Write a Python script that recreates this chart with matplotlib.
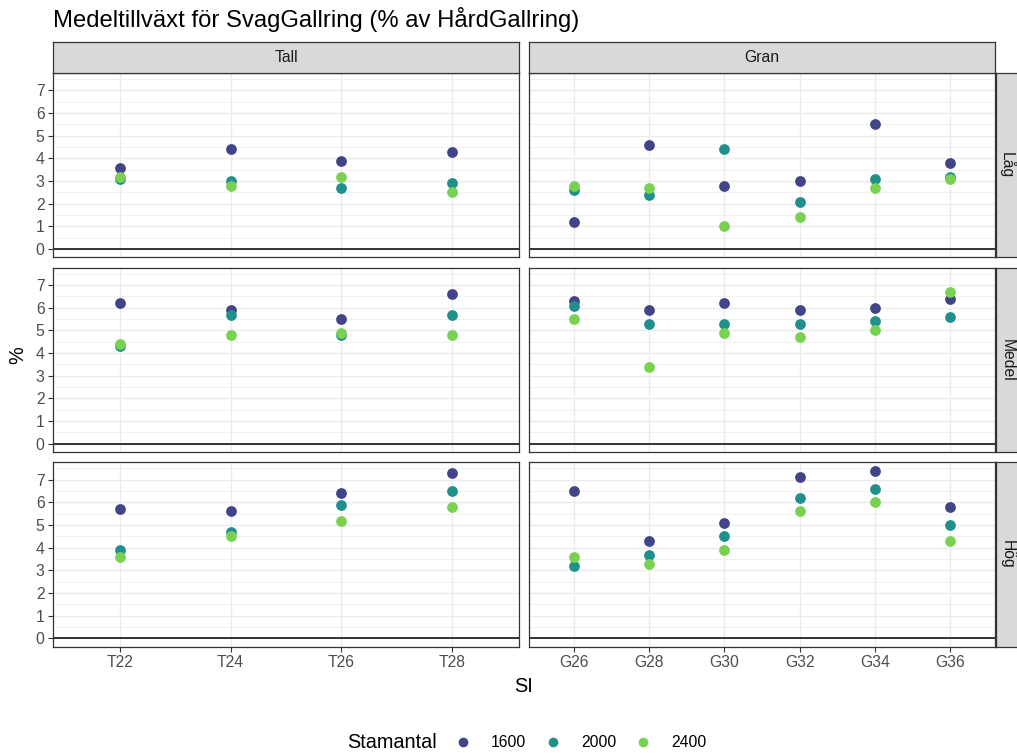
import matplotlib
matplotlib.use("Agg")
import matplotlib.pyplot as plt
from matplotlib.lines import Line2D
import numpy as np

plt.rcParams['font.family'] = ['Liberation Sans', 'DejaVu Sans']

# ---------------- data ----------------
title = "Medeltillväxt för SvagGallring (% av HårdGallring)"
tall_si = ["T22", "T24", "T26", "T28"]
gran_si = ["G26", "G28", "G30", "G32", "G34", "G36"]
art_labels = ["Tall", "Gran"]
bonitet_labels = ["Låg", "Medel", "Hög"]
stamantal = ["1600", "2000", "2400"]
colors = ["#414487", "#21908C", "#7AD151"]

# values: one list per stamantal (1600, 2000, 2400)
tall_lag = [[3.6, 4.4, 3.9, 4.3],
            [3.1, 3.0, 2.7, 2.9],
            [3.2, 2.8, 3.2, 2.5]]
gran_lag = [[1.2, 4.6, 2.8, 3.0, 5.5, 3.8],
            [2.6, 2.4, 4.4, 2.1, 3.1, 3.2],
            [2.8, 2.7, 1.0, 1.4, 2.7, 3.1]]
tall_medel = [[6.2, 5.9, 5.5, 6.6],
              [4.3, 5.7, 4.8, 5.7],
              [4.4, 4.8, 4.9, 4.8]]
gran_medel = [[6.3, 5.9, 6.2, 5.9, 6.0, 6.4],
              [6.1, 5.3, 5.3, 5.3, 5.4, 5.6],
              [5.5, 3.4, 4.9, 4.7, 5.0, 6.7]]
tall_hog = [[5.7, 5.6, 6.4, 7.3],
            [3.9, 4.7, 5.9, 6.5],
            [3.6, 4.5, 5.2, 5.8]]
gran_hog = [[6.5, 4.3, 5.1, 7.1, 7.4, 5.8],
            [3.2, 3.7, 4.5, 6.2, 6.6, 5.0],
            [3.6, 3.3, 3.9, 5.6, 6.0, 4.3]]

panels = [[tall_lag, gran_lag], [tall_medel, gran_medel], [tall_hog, gran_hog]]
cats = [tall_si, gran_si]

# ---------------- layout ----------------
W, H = 1017, 753
fig = plt.figure(figsize=(W / 100, H / 100), dpi=100)

def rect(x, y, w, h):
    return [x / W, 1 - (y + h) / H, w / W, h / H]

col_x = [53, 529]
col_w = 466
row_y = [73, 267.7, 462.3]
row_h = 184.5
strip_top_y, strip_top_h = 42, 31
strip_right_x, strip_right_w = 995.5, 24

border_col = "#333333"
tick_lab_col = "#4D4D4D"
ylim = (-0.37, 7.77)

for r in range(3):
    for c in range(2):
        ax = fig.add_axes(rect(col_x[c], row_y[r], col_w, row_h))
        ax.set_facecolor("white")
        data = panels[r][c]
        for k, s in enumerate(stamantal):
            ax.scatter(cats[c], data[k], s=60, color=colors[k], zorder=3,
                       linewidths=0)
        ax.axhline(0, color="black", lw=1.1, zorder=2)
        n = len(cats[c])
        ax.set_xlim(-0.6, n - 1 + 0.6)
        ax.set_ylim(*ylim)
        ax.set_yticks(np.arange(0, 8, 1))
        ax.set_yticks(np.arange(0.5, 8, 1), minor=True)
        ax.grid(True, which="major", color="#EBEBEB", lw=1.0, zorder=0)
        ax.grid(True, which="minor", axis="y", color="#EBEBEB", lw=0.5, zorder=0)
        ax.set_axisbelow(True)
        for sp in ax.spines.values():
            sp.set_color(border_col)
            sp.set_linewidth(0.9)
        ax.tick_params(which="minor", length=0)
        ax.tick_params(axis="both", which="major", color=border_col,
                       labelcolor=tick_lab_col, labelsize=11.3,
                       length=3.6, width=0.8, pad=2.5)
        if c != 0:
            ax.tick_params(axis="y", which="major", length=0, labelleft=False)
        if r != 2:
            ax.tick_params(axis="x", which="major", length=0, labelbottom=False)

        # right strips
        if c == 1:
            sax = fig.add_axes(rect(strip_right_x, row_y[r], strip_right_w, row_h))
            sax.set_facecolor("#D9D9D9")
            sax.set_xticks([]); sax.set_yticks([])
            for sp in sax.spines.values():
                sp.set_color(border_col); sp.set_linewidth(0.9)
            sax.text(0.5, 0.5, bonitet_labels[r], rotation=-90, ha="center",
                     va="center", fontsize=11.3, color="#1A1A1A",
                     transform=sax.transAxes)

for c in range(2):
    sax = fig.add_axes(rect(col_x[c], strip_top_y, col_w, strip_top_h))
    sax.set_facecolor("#D9D9D9")
    sax.set_xticks([]); sax.set_yticks([])
    for sp in sax.spines.values():
        sp.set_color(border_col); sp.set_linewidth(0.9)
    sax.text(0.5, 0.5, art_labels[c], ha="center", va="center",
             fontsize=11.3, color="#1A1A1A", transform=sax.transAxes)

# titles
fig.text(53 / W, 1 - 27 / H, title, ha="left", va="baseline", fontsize=17.2,
         color="black")
fig.text(524 / W, 1 - 686 / H, "SI", ha="center", va="center", fontsize=14.3)
fig.text(18 / W, 1 - 355 / H, "%", ha="center", va="center", fontsize=14.3,
         rotation=90)

# legend
fig.text(347 / W, 1 - 742.5 / H, "Stamantal", ha="left", va="center",
         fontsize=14.3)
handles = [Line2D([], [], marker="o", ls="none", color=colors[k],
                  markersize=7.0, markeredgewidth=0) for k in range(3)]
fig.legend(handles, stamantal, loc="center left",
           bbox_to_anchor=(455 / W, 1 - 742.5 / H), ncol=3, frameon=False,
           fontsize=11.3, handlelength=1.0, handletextpad=1.3,
           columnspacing=1.2, borderpad=0, borderaxespad=0)

fig.savefig("out.png", dpi=100, facecolor="white")
